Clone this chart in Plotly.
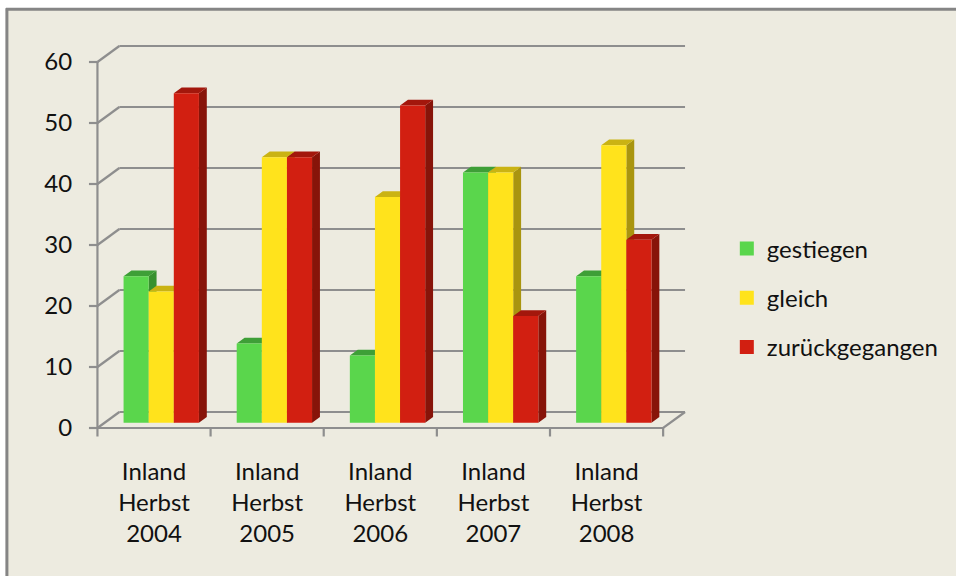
import plotly.graph_objects as go

# ---------------- data ----------------
categories = ["Inland<br>Herbst<br>2004", "Inland<br>Herbst<br>2005", "Inland<br>Herbst<br>2006",
              "Inland<br>Herbst<br>2007", "Inland<br>Herbst<br>2008"]
series_names = ["gestiegen", "gleich", "zurückgegangen"]
gestiegen = [24, 13, 11, 41, 24]
gleich = [21.5, 43.5, 37, 41, 45.5]
zurueckgegangen = [54, 43.5, 52, 17.5, 30]
y_ticks = [0, 10, 20, 30, 40, 50, 60]

series_values = [gestiegen, gleich, zurueckgegangen]

# ---------------- style ----------------
front_colors = ["#5AD64C", "#FFE31C", "#D21F11"]
top_colors = ["#3E9F37", "#CAB313", "#A3170C"]
side_colors = ["#38912F", "#A9950F", "#871409"]
grid_color = "#8E8E8E"
bg_color = "#EDEBE0"
FONT = "Lato, Calibri, sans-serif"
FS = 24

W_PX, H_PX = 956, 576
PX_X = 113.7          # px per category on the front plane
PX_Y = 6.1            # px per value unit
X0_PX, Y0_PX = 97.5, 428.0   # pixel position of front origin
KX = 22.0 / PX_X      # depth offset (data units) for full depth
KY = 16.0 / PX_Y
F0 = 0.33             # depth of bar front faces
FD = 0.36             # bar depth
BW = 0.222            # bar width (category units)

L, R, T, B = 87, 262, 42, 138
PW = W_PX - L - R
PH = H_PX - T - B
xa = (L - X0_PX) / PX_X
xb = xa + PW / PX_X
ya = -(H_PX - B - Y0_PX) / PX_Y
yb = ya + PH / PX_Y

n = len(categories)
ymax = y_ticks[-1]

fig = go.Figure()

# ---------------- walls / gridlines ----------------
gx, gy = [], []
for v in y_ticks:
    gx += [KX, n + KX, None]
    gy += [v + KY, v + KY, None]
    gx += [0, KX, None]
    gy += [v, v + KY, None]
    gx += [-0.075, 0, None]
    gy += [v, v, None]
gx += [0, 0, None]
gy += [0, ymax, None]
gx += [0, n, n + KX, None]
gy += [0, 0, KY, None]
for i in range(n + 1):
    gx += [i, i, None]
    gy += [0, -8.5 / PX_Y, None]
fig.add_trace(go.Scatter(x=gx, y=gy, mode="lines", line=dict(color=grid_color, width=2.2),
                         hoverinfo="skip", showlegend=False))

# ---------------- 3D bars ----------------
ddx, ddy = FD * KX, FD * KY
sx0, sy0 = F0 * KX, F0 * KY
sides, tops, fronts = [], [], []
for k, vals in enumerate(series_values):
    sxs, sys_, txs, tys, fxs, fys = [], [], [], [], [], []
    for i, v in enumerate(vals):
        x0 = i + 0.5 + sx0 + (k - 1.5) * BW
        x1 = x0 + BW
        b = sy0
        t = sy0 + v
        sxs += [x1, x1 + ddx, x1 + ddx, x1, x1, None]
        sys_ += [b, b + ddy, t + ddy, t, b, None]
        txs += [x0, x1, x1 + ddx, x0 + ddx, x0, None]
        tys += [t, t, t + ddy, t + ddy, t, None]
        fxs += [x0, x1, x1, x0, x0, None]
        fys += [b, b, t, t, b, None]
    sides.append((sxs, sys_))
    tops.append((txs, tys))
    fronts.append((fxs, fys))

for k in range(3):
    fig.add_trace(go.Scatter(x=sides[k][0], y=sides[k][1], mode="lines", fill="toself",
                             fillcolor=side_colors[k], line=dict(width=0, color=side_colors[k]),
                             hoverinfo="skip", showlegend=False))
for k in range(3):
    fig.add_trace(go.Scatter(x=tops[k][0], y=tops[k][1], mode="lines", fill="toself",
                             fillcolor=top_colors[k], line=dict(width=0, color=top_colors[k]),
                             hoverinfo="skip", showlegend=False))
for k in range(3):
    fig.add_trace(go.Scatter(x=fronts[k][0], y=fronts[k][1], mode="lines", fill="toself",
                             fillcolor=front_colors[k], line=dict(width=0, color=front_colors[k]),
                             hoverinfo="skip", showlegend=False))

for k, name in enumerate(series_names):
    fig.add_trace(go.Scatter(x=[None], y=[None], mode="markers", name=name,
                             legendgroup=name,
                             marker=dict(symbol="square", size=14, color=front_colors[k])))

# ---------------- background frame (white outside, grey left/top border) ----------------
def px_to_paper_x(px):
    return (px - L) / PW

def px_to_paper_y(py):
    return 1 - (py - T) / PH

# white strip to the left and above the frame
fig.add_shape(type="rect", xref="paper", yref="paper", layer="below",
              x0=px_to_paper_x(-10), x1=px_to_paper_x(5.5),
              y0=px_to_paper_y(600), y1=px_to_paper_y(-10),
              fillcolor="white", line=dict(width=0))
fig.add_shape(type="rect", xref="paper", yref="paper", layer="below",
              x0=px_to_paper_x(-10), x1=px_to_paper_x(1000),
              y0=px_to_paper_y(8.3), y1=px_to_paper_y(-10),
              fillcolor="white", line=dict(width=0))
# grey border lines
fig.add_shape(type="line", xref="paper", yref="paper", layer="below",
              x0=px_to_paper_x(6.5), x1=px_to_paper_x(6.5),
              y0=px_to_paper_y(600), y1=px_to_paper_y(8.3),
              line=dict(color="#858585", width=3))
fig.add_shape(type="line", xref="paper", yref="paper", layer="below",
              x0=px_to_paper_x(5.5), x1=px_to_paper_x(1000),
              y0=px_to_paper_y(9.3), y1=px_to_paper_y(9.3),
              line=dict(color="#858585", width=3))

fig.update_layout(
    width=W_PX, height=H_PX,
    margin=dict(l=L, r=R, t=T, b=B, pad=0),
    paper_bgcolor=bg_color,
    plot_bgcolor="rgba(0,0,0,0)",
    font=dict(family=FONT, size=FS, color="#111111"),
    xaxis=dict(type="linear", range=[xa, xb], showgrid=False, zeroline=False, showline=False,
               tickmode="array", tickvals=[i + 0.5 for i in range(n)], ticktext=categories,
               ticks="outside", ticklen=12, tickcolor="rgba(0,0,0,0)",
               tickfont=dict(family=FONT, size=FS, color="#111111"), fixedrange=True),
    yaxis=dict(range=[ya, yb], showgrid=False, zeroline=False, showline=False,
               tickmode="array", tickvals=y_ticks, ticktext=[str(v) for v in y_ticks],
               ticks="outside", ticklen=9, tickcolor="rgba(0,0,0,0)",
               tickfont=dict(family=FONT, size=FS, color="#111111"), fixedrange=True),
    legend=dict(x=px_to_paper_x(730), xanchor="left", y=px_to_paper_y(298), yanchor="middle",
                bgcolor="rgba(0,0,0,0)", traceorder="grouped", tracegroupgap=15,
                font=dict(family=FONT, size=FS, color="#111111")),
    showlegend=True,
)

fig.write_html("out.html", config={"displayModeBar": False},
               post_script="document.body.style.margin='0';document.body.style.overflow='hidden';")
